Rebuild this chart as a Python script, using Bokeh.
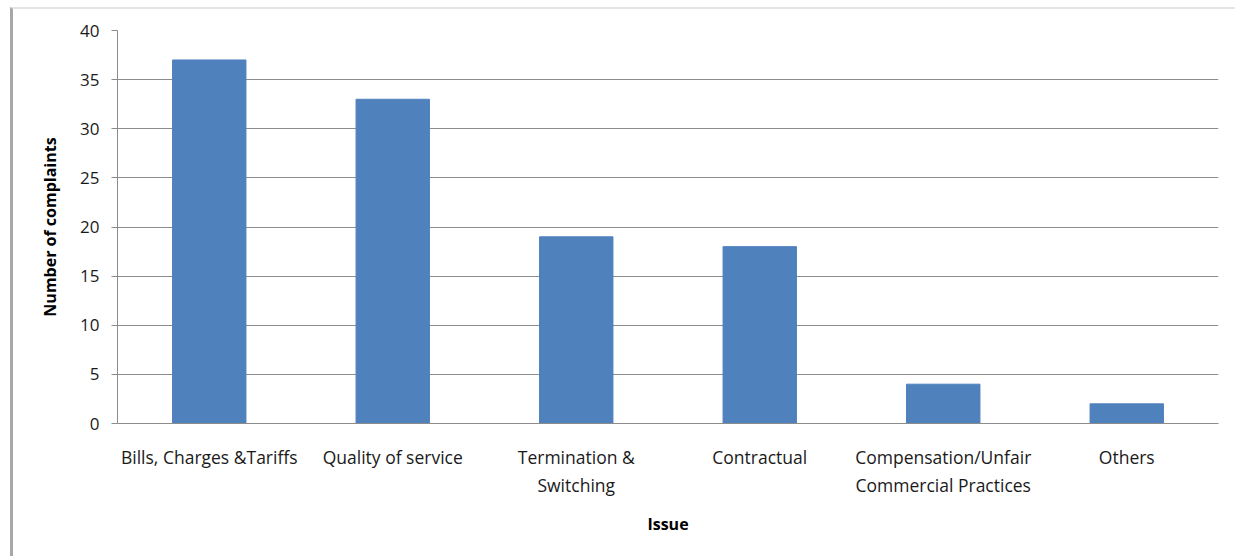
from bokeh.plotting import figure
from bokeh.models import ColumnDataSource, Range1d, FixedTicker
from bokeh.embed import file_html
from bokeh.resources import INLINE

categories = ["Bills, Charges &Tariffs", "Quality of service", "Termination &\nSwitching",
              "Contractual", "Compensation/Unfair\nCommercial Practices", "Others"]
complaints = [37, 33, 19, 18, 4, 2]
y_ticks = [0, 5, 10, 15, 20, 25, 30, 35, 40]

FONT = "Open Sans"
GRID = "#8c8c8c"

source = ColumnDataSource(data=dict(issue=categories, count=complaints))

p = figure(x_range=categories, y_range=Range1d(0, 40),
           width=1225, height=549, margin=(7, 0, 0, 10),
           output_backend="svg", toolbar_location=None,
           min_border_left=104, min_border_top=21, min_border_right=20, min_border_bottom=135)
p.styles = {"border-top": "2px solid #e4e4e4", "border-left": "3px solid #a8a8a8"}

p.vbar(x="issue", top="count", width=0.4, source=source,
       fill_color="#4F81BD", line_color="#4F81BD")

p.outline_line_color = None
p.xgrid.grid_line_color = None
p.ygrid.grid_line_color = GRID
p.ygrid.grid_line_width = 1
p.ygrid.ticker = FixedTicker(ticks=y_ticks)

p.yaxis.ticker = FixedTicker(ticks=y_ticks)
p.yaxis.axis_line_color = GRID
p.yaxis.major_tick_line_color = GRID
p.yaxis.major_tick_out = 6
p.yaxis.major_tick_in = 0
p.yaxis.minor_tick_line_color = None
p.yaxis.major_label_standoff = 12
p.yaxis.major_label_text_font = FONT
p.yaxis.major_label_text_font_size = "17px"
p.yaxis.major_label_text_color = "#1a1a1a"
p.yaxis.axis_label = "Number of complaints"
p.yaxis.axis_label_text_font = FONT
p.yaxis.axis_label_text_font_style = "bold"
p.yaxis.axis_label_text_font_size = "16px"
p.yaxis.axis_label_text_color = "#000000"
p.yaxis.axis_label_standoff = 16

p.xaxis.axis_line_color = GRID
p.xaxis.major_tick_line_color = None
p.xaxis.major_tick_out = 0
p.xaxis.major_label_standoff = 21
p.xaxis.major_label_text_font = FONT
p.xaxis.major_label_text_font_size = "17.5px"
p.xaxis.major_label_text_color = "#1a1a1a"
p.xaxis.axis_label = "Issue"
p.xaxis.axis_label_text_font = FONT
p.xaxis.axis_label_text_font_style = "bold"
p.xaxis.axis_label_text_font_size = "16px"
p.xaxis.axis_label_text_color = "#000000"
p.xaxis.axis_label_standoff = 13

p.x_range.range_padding = 0

open("out.html", "w").write(file_html(p, INLINE))
